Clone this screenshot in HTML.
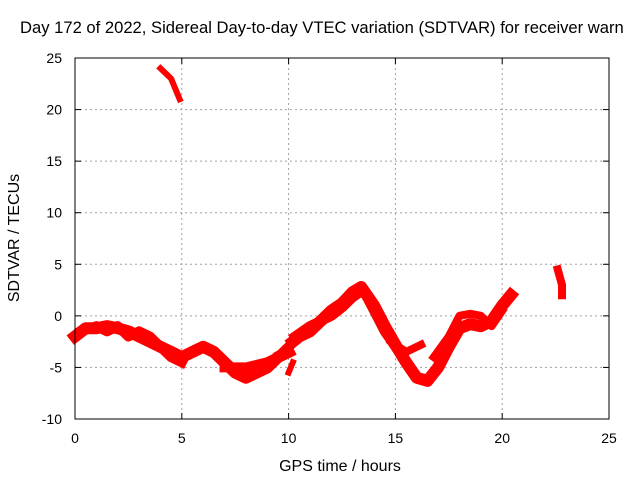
<!DOCTYPE html>
<html><head><meta charset="utf-8"><style>
body{margin:0;background:#fff}
svg{display:block;font-family:"Liberation Sans",sans-serif;font-size:14px}
</style></head><body>
<svg id="c" width="640" height="480">
<text x="20" y="33" style="font-size:16.6px">Day 172 of 2022, Sidereal Day-to-day VTEC variation (SDTVAR) for receiver warn</text>
<g id="grid"></g>
<g id="series" fill="none" stroke="#ff0000" stroke-linejoin="round" stroke-linecap="square"></g>
<rect x="75" y="58" width="534" height="361" fill="none" stroke="#000"/>
<g id="ticks"></g>
<text x="340" y="471" text-anchor="middle" style="font-size:16px">GPS time / hours</text>
<text transform="translate(19,238) rotate(-90)" text-anchor="middle" style="font-size:16px">SDTVAR / TECUs</text>
</svg>
<script>
const xTicks=[0,5,10,15,20,25];
const yTicks=[-10,-5,0,5,10,15,20,25];
const trackMainH=[0,0.5,1,1.5,2,2.5,3,3.5,4,4.5,5,5.5,6,6.5,7,7.5,8,8.5,9,9.5,10];
const trackMainV=[-2,-1.2,-1.2,-1,-1.2,-1.5,-2,-2.5,-3,-3.5,-4,-3.5,-3,-3.5,-4.5,-5.5,-6,-5.5,-5,-4,-3.5];
const trackBH=[0.3,1,1.5,2,2.5,3,3.5,4,4.5,5];
const trackBV=[-1.5,-1,-1.5,-1,-2,-1.5,-2,-3,-4,-4.5];
const trackCH=[7,8,9,9.5,10];
const trackCV=[-5,-5,-4.5,-4,-3];
const trackRiseH=[10.2,10.5,11,11.5,12,12.5,13,13.4,14,14.5,15,15.5,16,16.5,17,17.5,18,18.5,19,19.5,20,20.4];
const trackRiseV=[-2.5,-2,-1.5,-0.5,0.5,1.2,2.3,2.8,1,-1,-2.8,-4.5,-6,-6.3,-5,-3,-1.2,-0.8,-1,-0.5,1,2];
const trackR2H=[10.3,11,11.5,12,12.5,13,13.5,14,14.5,15];
const trackR2V=[-2,-1,-0.5,0,0.8,1.8,2.5,0.5,-1.5,-3];
const trackDH=[14.8,15.5,16,16.2];
const trackDV=[-2.5,-3.5,-3,-2.8];
const trackEH=[16.8,17.5,18,18.5,19,19.5,20];
const trackEV=[-4,-2,0,0.2,0,-1,0.5];
const trackTopH=[4,4.5,4.9];
const trackTopV=[24,23,21];
const trackRightH=[22.6,22.8,22.8];
const trackRightV=[4.5,3,2];
const trackSmallH=[10,10.2];
const trackSmallV=[-5.5,-4.5];
const X=h=>75+h*534/25, Y=v=>419-(v+10)*361/35;
const NS="http://www.w3.org/2000/svg";
const grid=document.getElementById('grid'),ticks=document.getElementById('ticks'),ser=document.getElementById('series');
function mk(tag,a,p){const e=document.createElementNS(NS,tag);for(const k in a)e.setAttribute(k,a[k]);p.appendChild(e);return e;}
xTicks.forEach(t=>{
 if(t>0&&t<25){const g=mk('line',{x1:X(t),x2:X(t),y1:58,y2:419,stroke:'#a0a0a0','stroke-dasharray':'2,3'},grid);
 
 }
 const l=mk('text',{x:X(t),y:443,'text-anchor':'middle'},ticks);l.textContent=t;
 
 
 mk('line',{x1:X(t),x2:X(t),y1:419,y2:413,stroke:'#000'},ticks);
 mk('line',{x1:X(t),x2:X(t),y1:58,y2:64,stroke:'#000'},ticks);
});
yTicks.forEach(t=>{
 if(t>-10&&t<25){const g=mk('line',{x1:75,x2:609,y1:Y(t),y2:Y(t),stroke:'#a0a0a0','stroke-dasharray':'2,3'},grid);
 
 }
 const l=mk('text',{x:62,y:Y(t)+5,'text-anchor':'end'},ticks);l.textContent=t;
 
 
 mk('line',{x1:75,x2:81,y1:Y(t),y2:Y(t),stroke:'#000'},ticks);
 mk('line',{x1:603,x2:609,y1:Y(t),y2:Y(t),stroke:'#000'},ticks);
});
function track(H,V,w){
 const p=mk('polyline',{points:H.map((h,i)=>X(h)+','+Y(V[i])).join(' '),'stroke-width':w},ser);
 
 
}
track(trackMainH,trackMainV,12);
track(trackBH,trackBV,10);
track(trackCH,trackCV,10);
track(trackRiseH,trackRiseV,12);
track(trackR2H,trackR2V,10);
track(trackDH,trackDV,8);
track(trackEH,trackEV,8);
track(trackTopH,trackTopV,6);
track(trackRightH,trackRightV,8);
track(trackSmallH,trackSmallV,6);
</script>
</body></html>
